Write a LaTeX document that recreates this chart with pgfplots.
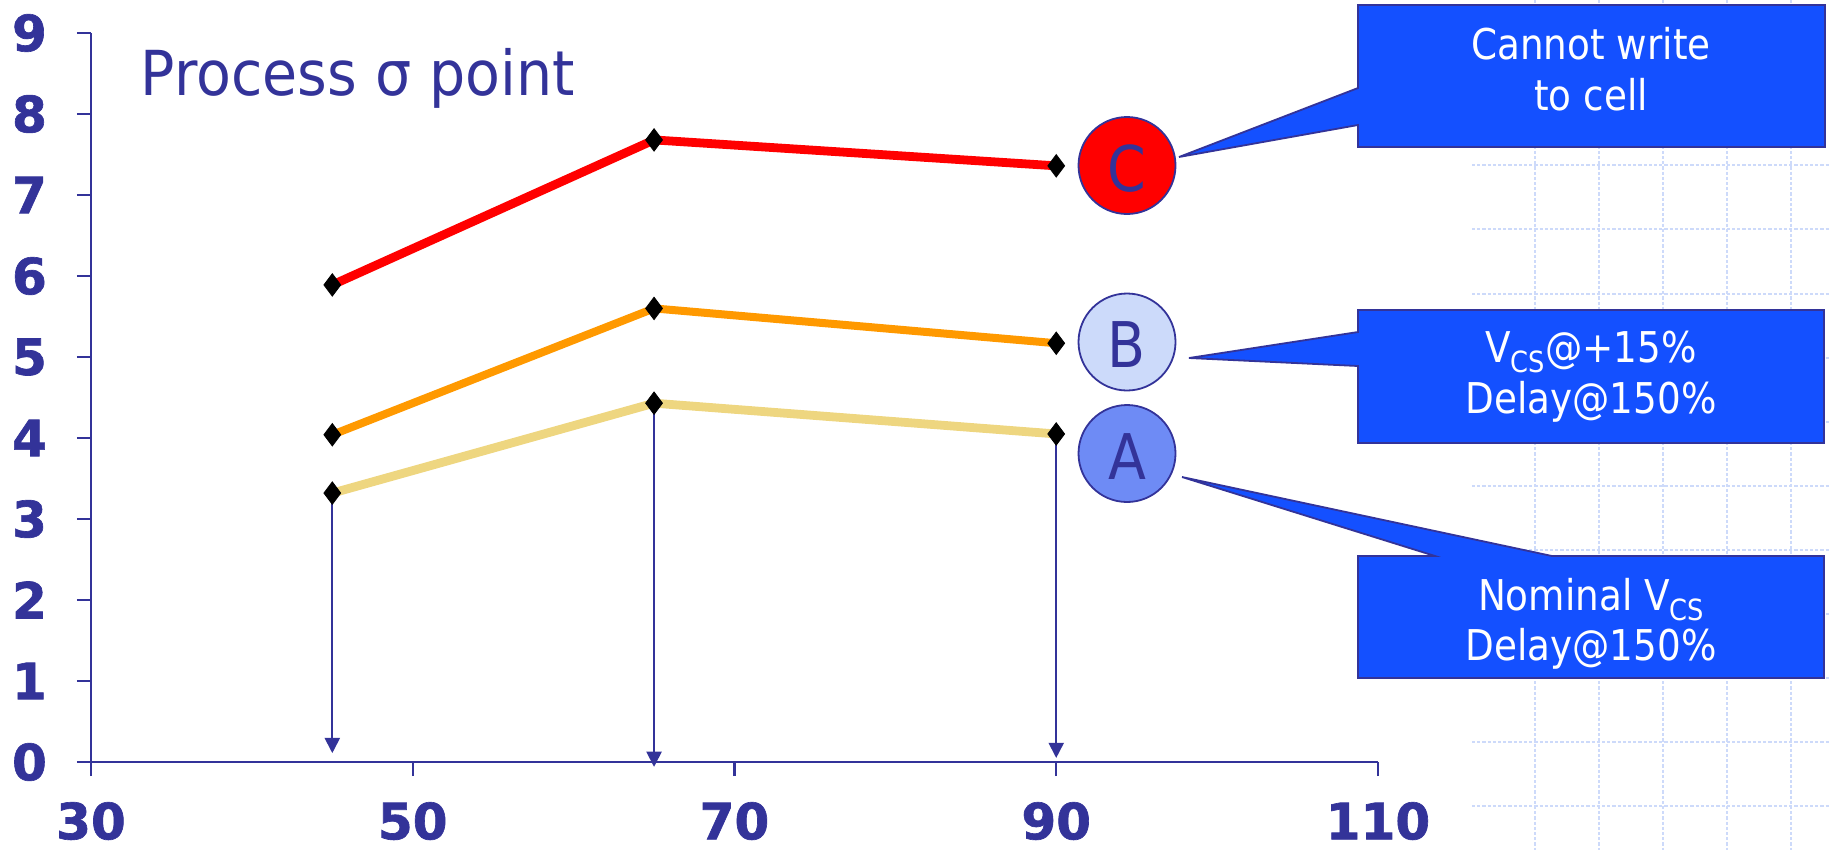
\documentclass[border=0pt]{standalone}
\usepackage{fontspec}
\setmainfont{DejaVu Sans}
\newfontfamily\narrowfont[FakeStretch=0.88]{DejaVu Sans}
\newfontfamily\titlefont[FakeStretch=0.92]{DejaVu Sans}
\newfontfamily\tickfont[FakeBold=1.3]{DejaVu Sans Bold}
\usepackage{pgfplots}
\pgfplotsset{compat=1.18}
\usetikzlibrary{arrows.meta}

\definecolor{navy}{RGB}{51,51,153}
\definecolor{lineC}{RGB}{255,0,0}
\definecolor{lineB}{RGB}{255,153,0}
\definecolor{lineA}{RGB}{238,214,128}
\definecolor{calloutblue}{RGB}{20,80,255}
\definecolor{fillB}{RGB}{204,218,250}
\definecolor{fillA}{RGB}{110,139,245}
\definecolor{gridblue}{RGB}{205,218,250}

\pgfplotstableread{
x    C     B     A
45   5.89  4.04  3.32
65   7.68  5.60  4.43
90   7.36  5.17  4.05
}\sigmadata

\begin{document}
\begin{tikzpicture}
\useasboundingbox (0,0) rectangle (457.25pt,212.5pt);

% faint dashed grid behind the callouts
\begin{scope}[x=0.25pt,y=-0.25pt,shift={(0pt,212.5pt)}]
  \foreach \gx in {1535,1599,1663,1727,1791}
    \draw[gridblue, line width=0.3pt, dash pattern=on 0.8pt off 0.5pt] (\gx,0) -- (\gx,850);
  \foreach \gy in {165,229,294,358,422,486,550,614,678,742,806}
    \draw[gridblue, line width=0.3pt, dash pattern=on 0.8pt off 0.5pt] (1472,\gy) -- (1829,\gy);
\end{scope}

\begin{axis}[
  at={(22.75pt,22pt)}, anchor=south west,
  scale only axis, width=321.75pt, height=182.25pt,
  xmin=30, xmax=110, ymin=0, ymax=9,
  axis x line=bottom, axis y line=left,
  axis line style={navy, line width=0.55pt, -},
  xtick={30,50,70,90,110}, ytick={0,1,...,9},
  tick align=outside, major tick length=3.5pt,
  tick style={navy, line width=0.55pt},
  ticklabel style={font=\tickfont\fontsize{12.5}{14}\selectfont, text=navy},
  yticklabel style={xshift=-4pt},
  xticklabel style={yshift=-3pt},
  /pgf/number format/assume math mode=true,
  clip=false,
]
  % drop lines from the nominal curve to the axis
  \addplot[navy, line width=0.45pt, -{Triangle[width=3.8pt,length=3.8pt]}, forget plot]
    coordinates {(45,3.32) (45,0.11)};
  \addplot[navy, line width=0.45pt, -{Triangle[width=3.8pt,length=3.8pt]}, forget plot]
    coordinates {(65,4.43) (65,-0.06)};
  \addplot[navy, line width=0.45pt, -{Triangle[width=3.8pt,length=3.8pt]}, forget plot]
    coordinates {(90,4.05) (90,0.05)};

  \addplot[lineA, line width=2.2pt, mark=diamond*, mark size=2.8pt,
    mark options={black, fill=black, line width=0.2pt}] table[x=x, y=A] {\sigmadata};
  \addplot[lineB, line width=2.0pt, mark=diamond*, mark size=2.8pt,
    mark options={black, fill=black, line width=0.2pt}] table[x=x, y=B] {\sigmadata};
  \addplot[lineC, line width=2.2pt, mark=diamond*, mark size=2.8pt,
    mark options={black, fill=black, line width=0.2pt}] table[x=x, y=C] {\sigmadata};
\end{axis}

\begin{scope}[x=0.25pt,y=-0.25pt,shift={(0pt,212.5pt)}]
  % title
  \node[anchor=base west, inner sep=0, text=navy,
        font=\titlefont\fontsize{15.5}{18}\selectfont] at (140,95) {Process σ point};

  % corner markers
  \draw[navy, line width=0.45pt, fill=lineC] (1127,165.5) circle[radius=12.125pt];
  \node[anchor=base, inner sep=0, text=navy, font=\narrowfont\fontsize{15.75}{18}\selectfont]
    at (1127,191) {C};
  \draw[navy, line width=0.45pt, fill=fillB] (1127,342) circle[radius=12.125pt];
  \node[anchor=base, inner sep=0, text=navy, font=\narrowfont\fontsize{15.75}{18}\selectfont]
    at (1127,367) {B};
  \draw[navy, line width=0.45pt, fill=fillA] (1127,453.5) circle[radius=12.125pt];
  \node[anchor=base, inner sep=0, text=navy, font=\narrowfont\fontsize{15.75}{18}\selectfont]
    at (1127,479) {A};

  % callouts
  \draw[navy, line width=0.45pt, fill=calloutblue]
    (1358,5) -- (1825,5) -- (1825,147) -- (1358,147) -- (1358,125)
    -- (1179,157) -- (1358,88) -- cycle;
  \draw[navy, line width=0.45pt, fill=calloutblue]
    (1358,310) -- (1824,310) -- (1824,443) -- (1358,443) -- (1358,366)
    -- (1189,358) -- (1358,332) -- cycle;
  \draw[navy, line width=0.45pt, fill=calloutblue]
    (1358,556) -- (1435,556) -- (1182,477) -- (1552,556) -- (1824,556)
    -- (1824,678) -- (1358,678) -- cycle;

  \tikzset{callout text/.style={anchor=base, inner sep=0, text=white,
      font=\narrowfont\fontsize{10.6}{12}\selectfont}}
  \node[callout text] at (1591,59)  {Cannot write};
  \node[callout text] at (1591,110) {to cell};
  \node[callout text] at (1591,362)
    {V\raisebox{-2.6pt}{\fontsize{7.3}{8}\selectfont CS}@+15\%};
  \node[callout text] at (1591,413) {Delay@150\%};
  \node[callout text] at (1591,610)
    {Nominal V\raisebox{-2.6pt}{\fontsize{7.3}{8}\selectfont CS}};
  \node[callout text] at (1591,660) {Delay@150\%};
\end{scope}
\end{tikzpicture}
\end{document}
